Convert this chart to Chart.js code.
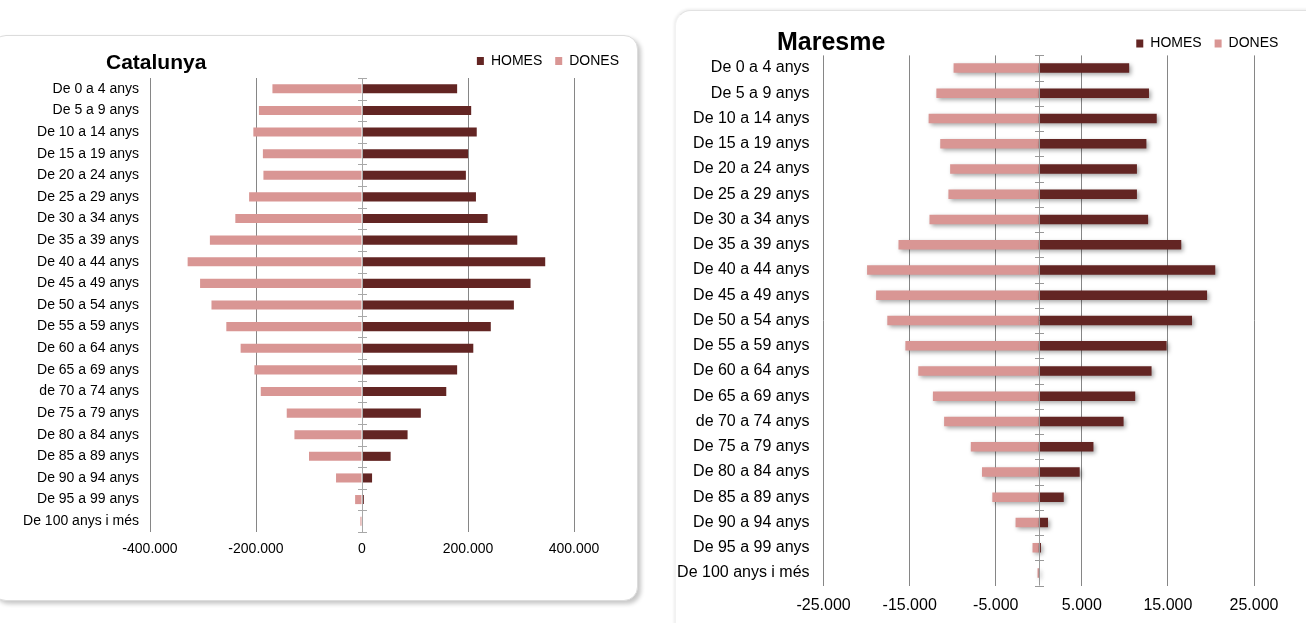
<!DOCTYPE html>
<html>
<head>
<meta charset="utf-8">
<script src="https://cdn.jsdelivr.net/npm/chart.js@4.4.1/dist/chart.umd.min.js"></script>
<style>
  html, body { margin: 0; padding: 0; background: #fff; }
  body { width: 1306px; height: 623px; overflow: hidden; position: relative;
         font-family: "Liberation Sans", Arial, sans-serif; }
  .panel { position: absolute; background: #fff; }
  #panel1 { left: -8px; top: 35px; width: 644px; height: 564px; border-radius: 14px;
            border: 1px solid #dcdcdc; box-shadow: 3px 3px 4px rgba(0,0,0,0.22); }
  #panel2 { left: 675px; top: 10px; width: 700px; height: 700px; border-radius: 16px;
            border-top: 1px solid #e2e2e2; border-left: 1px solid #f2f2f2;
            box-shadow: -1px -1px 3px rgba(0,0,0,0.08); }
  canvas { position: absolute; top: 0; }
  #c1 { left: 0; }
  #c2 { left: 650px; }
  .title { position: absolute; font-weight: bold; color: #000; white-space: nowrap; }
  #t1 { left: 106px; top: 49.5px; font-size: 21px; line-height: 24px; }
  #t2 { left: 777px; top: 25.5px; font-size: 25px; line-height: 30px; }
</style>
</head>
<body>
<div class="panel" id="panel1"></div>
<div class="panel" id="panel2"></div>
<canvas id="c1" width="650" height="623" style="width:650px;height:623px"></canvas>
<canvas id="c2" width="656" height="623" style="width:656px;height:623px"></canvas>
<div class="title" id="t1">Catalunya</div>
<div class="title" id="t2">Maresme</div>
<script>
// ---------- DATA ----------
const categories = [
  'De 0 a 4 anys', 'De 5 a 9 anys', 'De 10 a 14 anys', 'De 15 a 19 anys',
  'De 20 a 24 anys', 'De 25 a 29 anys', 'De 30 a 34 anys', 'De 35 a 39 anys',
  'De 40 a 44 anys', 'De 45 a 49 anys', 'De 50 a 54 anys', 'De 55 a 59 anys',
  'De 60 a 64 anys', 'De 65 a 69 anys', 'de 70 a 74 anys', 'De 75 a 79 anys',
  'De 80 a 84 anys', 'De 85 a 89 anys', 'De 90 a 94 anys', 'De 95 a 99 anys',
  'De 100 anys i més'
];
const seriesNames = ['HOMES', 'DONES'];

const catalunyaHomes = [179500, 206000, 216500, 200000, 196000, 215000, 237000, 293000, 345700, 318000,
                        286600, 243000, 210000, 179500, 159000, 111000, 86000, 54000, 19000, 3500, 500];
const catalunyaDones = [169000, 194500, 205000, 187000, 186000, 213000, 239000, 287000, 329000, 305500,
                        284000, 256000, 229000, 203000, 191000, 142000, 127500, 100000, 49000, 13000, 3000];

const maresmeHomes = [10500, 12800, 13700, 12500, 11400, 11400, 12700, 16550, 20500, 19550,
                      17800, 14850, 13100, 11200, 9850, 6350, 4750, 2900, 1070, 250, 50];
const maresmeDones = [9900, 11900, 12800, 11450, 10300, 10500, 12700, 16300, 19950, 18900,
                      17600, 15500, 14000, 12300, 11000, 7900, 6600, 5400, 2700, 730, 150];

const catalunyaTicks = [-400000, -200000, 0, 200000, 400000];
const catalunyaTickLabels = ['-400.000', '-200.000', '0', '200.000', '400.000'];
const maresmeTicks = [-25000, -15000, -5000, 5000, 15000, 25000];
const maresmeTickLabels = ['-25.000', '-15.000', '-5.000', '5.000', '15.000', '25.000'];

// ---------- STYLE ----------
const HOMES_COLOR = '#632523';
const DONES_COLOR = '#D99694';
const GRID_COLOR = '#868686';
Chart.defaults.font.family = '"Liberation Sans", Arial, sans-serif';
Chart.defaults.color = '#000';

const barShadowPlugin = {
  id: 'barShadow',
  beforeDatasetsDraw(chart, args, opts) {
    if (!opts.enabled) return;
    const ctx = chart.ctx;
    ctx.save();
    ctx.shadowColor = opts.color;
    ctx.shadowBlur = opts.blur;
    ctx.shadowOffsetX = opts.dx;
    ctx.shadowOffsetY = opts.dy;
  },
  afterDatasetsDraw(chart, args, opts) {
    if (opts.enabled) chart.ctx.restore();
  }
};

const zeroAxisPlugin = {
  id: 'zeroAxis',
  afterDatasetsDraw(chart, args, opts) {
    const { ctx, chartArea, scales: { x, y } } = chart;
    const n = chart.data.labels.length;
    const x0 = Math.round(x.getPixelForValue(0)) + 0.5;
    const step = (y.getPixelForValue(n - 1) - y.getPixelForValue(0)) / (n - 1);
    const first = y.getPixelForValue(0) - step / 2;
    ctx.save();
    ctx.strokeStyle = opts.color;
    ctx.lineWidth = 1;
    ctx.beginPath();
    ctx.moveTo(x0, chartArea.top);
    ctx.lineTo(x0, chartArea.bottom);
    for (let i = 0; i <= n; i++) {
      const yy = Math.round(first + i * step) + 0.5;
      ctx.moveTo(x0 - opts.tick, yy);
      ctx.lineTo(x0 + opts.tick, yy);
    }
    ctx.stroke();
    ctx.restore();
  }
};

const legendShiftPlugin = {
  id: 'legendShift',
  afterLayout(chart, args, opts) {
    if (chart.legend && opts.dy) {
      chart.legend.top += opts.dy;
      chart.legend.bottom += opts.dy;
    }
  }
};

function makeChart(id, cfg) {
  return new Chart(document.getElementById(id), {
    type: 'bar',
    data: {
      labels: categories,
      datasets: [
        { label: seriesNames[0], data: cfg.homes, backgroundColor: HOMES_COLOR,
          borderWidth: 0, categoryPercentage: 1, barPercentage: cfg.barPct },
        { label: seriesNames[1], data: cfg.dones.map(v => -v), backgroundColor: DONES_COLOR,
          borderWidth: 0, categoryPercentage: 1, barPercentage: cfg.barPct }
      ]
    },
    plugins: [barShadowPlugin, zeroAxisPlugin, legendShiftPlugin],
    options: {
      indexAxis: 'y',
      responsive: false,
      animation: false,
      layout: { padding: cfg.padding },
      scales: {
        x: {
          type: 'linear',
          stacked: true,
          min: cfg.ticks[0],
          max: cfg.ticks[cfg.ticks.length - 1],
          afterBuildTicks: s => { s.ticks = cfg.ticks.map(v => ({ value: v })); },
          afterFit: s => { s.height = cfg.xAxisHeight; },
          ticks: {
            callback: (v, i) => cfg.tickLabels[i],
            font: { size: cfg.tickFont },
            color: '#000',
            padding: cfg.xTickPad,
            autoSkip: false,
            maxRotation: 0
          },
          grid: {
            color: c => (c.tick && c.tick.value === 0) ? 'rgba(0,0,0,0)' : GRID_COLOR,
            lineWidth: 1,
            drawTicks: false
          },
          border: { display: false }
        },
        y: {
          stacked: true,
          afterFit: s => { s.width = cfg.yAxisWidth; },
          ticks: { font: { size: cfg.tickFont }, color: '#000', padding: cfg.yTickPad, autoSkip: false },
          grid: { display: false, drawTicks: false },
          border: { display: false }
        },
        yRight: {
          type: 'category',
          position: 'right',
          display: true,
          afterFit: s => { s.width = cfg.rightSpace; },
          ticks: { display: false },
          grid: { display: false, drawTicks: false },
          border: { display: false }
        }
      },
      plugins: {
        title: { display: false },
        tooltip: { enabled: false },
        legend: {
          position: 'top',
          align: 'end',
          labels: {
            boxWidth: 7,
            boxHeight: 8,
            padding: 13,
            color: '#000',
            font: { size: 14 }
          }
        },
        barShadow: cfg.shadow,
        zeroAxis: { color: cfg.zeroColor, tick: 4.5 },
        legendShift: { dy: cfg.legendDy }
      }
    }
  });
}

makeChart('c1', {
  homes: catalunyaHomes, dones: catalunyaDones,
  ticks: catalunyaTicks, tickLabels: catalunyaTickLabels,
  padding: { left: 0, right: 18, top: 41, bottom: 61 },
  yAxisWidth: 150, rightSpace: 58, xAxisHeight: 30,
  tickFont: 14, xTickPad: 9, yTickPad: 11, barPct: 0.42,
  shadow: { enabled: false },
  zeroColor: '#a8a8a8', legendDy: 0
});

makeChart('c2', {
  homes: maresmeHomes, dones: maresmeDones,
  ticks: maresmeTicks, tickLabels: maresmeTickLabels,
  padding: { left: 0, right: 14.6, top: 18.4, bottom: 7.4 },
  yAxisWidth: 173.6, rightSpace: 37.4, xAxisHeight: 30,
  tickFont: 16, xTickPad: 10, yTickPad: 14, barPct: 0.37,
  shadow: { enabled: true, color: 'rgba(0,0,0,0.35)', blur: 4, dx: 2, dy: 2 },
  zeroColor: '#999999', legendDy: 5
});
</script>
</body>
</html>
